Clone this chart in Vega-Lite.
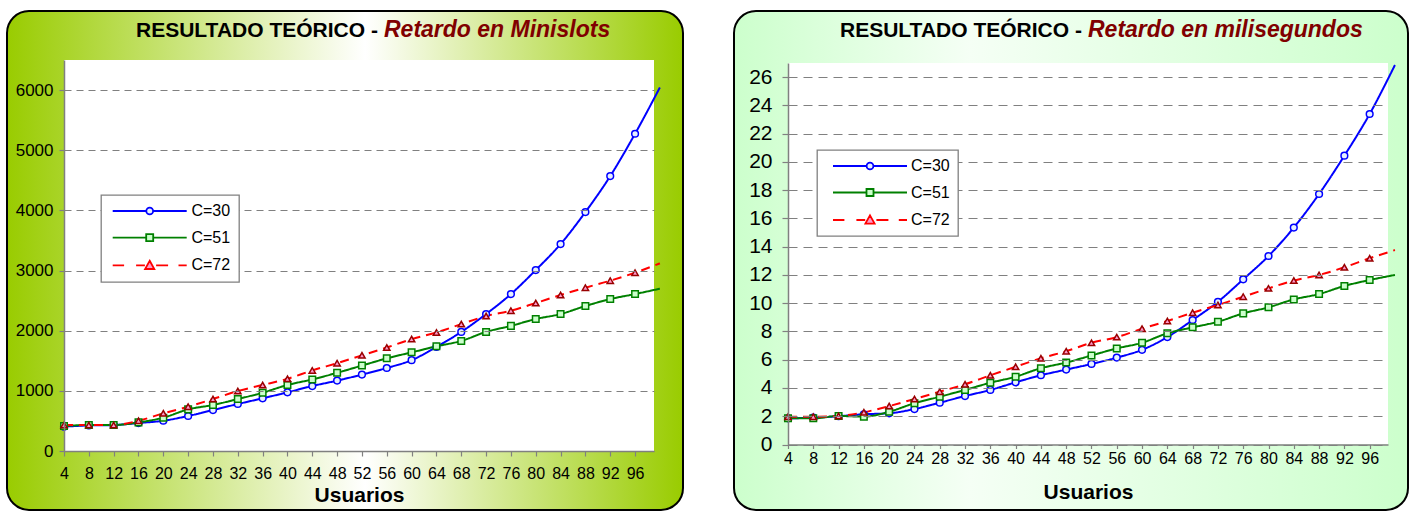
{
  "$schema": "https://vega.github.io/schema/vega-lite/v6.json",
  "background": "#FFFFFF",
  "padding": {"left": 6, "top": 10, "right": 0, "bottom": 0},
  "spacing": 49,
  "config": {"view": {"stroke": null}, "font": "Liberation Sans", "legend": {"strokeWidth": 1.3}},
  "datasets": {
    "panel": [{"k": 1}],
    "ms": [
      {"u":4,"C":"C=30","v":405},{"u":8,"C":"C=30","v":425},{"u":12,"C":"C=30","v":432},{"u":16,"C":"C=30","v":465},{"u":20,"C":"C=30","v":503},{"u":24,"C":"C=30","v":582},{"u":28,"C":"C=30","v":681},{"u":32,"C":"C=30","v":781},{"u":36,"C":"C=30","v":876},{"u":40,"C":"C=30","v":975},{"u":44,"C":"C=30","v":1080},{"u":48,"C":"C=30","v":1170},{"u":52,"C":"C=30","v":1270},{"u":56,"C":"C=30","v":1380},{"u":60,"C":"C=30","v":1510},{"u":64,"C":"C=30","v":1730},{"u":68,"C":"C=30","v":1980},{"u":72,"C":"C=30","v":2277},{"u":76,"C":"C=30","v":2609},{"u":80,"C":"C=30","v":3008},{"u":84,"C":"C=30","v":3440},{"u":88,"C":"C=30","v":3972},{"u":92,"C":"C=30","v":4570},{"u":96,"C":"C=30","v":5274},{"u":100,"C":"C=30","v":6044},
      {"u":4,"C":"C=51","v":415},{"u":8,"C":"C=51","v":432},{"u":12,"C":"C=51","v":432},{"u":16,"C":"C=51","v":476},{"u":20,"C":"C=51","v":554},{"u":24,"C":"C=51","v":692},{"u":28,"C":"C=51","v":765},{"u":32,"C":"C=51","v":864},{"u":36,"C":"C=51","v":969},{"u":40,"C":"C=51","v":1097},{"u":44,"C":"C=51","v":1190},{"u":48,"C":"C=51","v":1300},{"u":52,"C":"C=51","v":1420},{"u":56,"C":"C=51","v":1540},{"u":60,"C":"C=51","v":1640},{"u":64,"C":"C=51","v":1740},{"u":68,"C":"C=51","v":1830},{"u":72,"C":"C=51","v":1980},{"u":76,"C":"C=51","v":2080},{"u":80,"C":"C=51","v":2194},{"u":84,"C":"C=51","v":2277},{"u":88,"C":"C=51","v":2410},{"u":92,"C":"C=51","v":2526},{"u":96,"C":"C=51","v":2609},{"u":100,"C":"C=51","v":2698},
      {"u":4,"C":"C=72","v":432},{"u":8,"C":"C=72","v":432},{"u":12,"C":"C=72","v":432},{"u":16,"C":"C=72","v":503},{"u":20,"C":"C=72","v":626},{"u":24,"C":"C=72","v":737},{"u":28,"C":"C=72","v":864},{"u":32,"C":"C=72","v":997},{"u":36,"C":"C=72","v":1097},{"u":40,"C":"C=72","v":1200},{"u":44,"C":"C=72","v":1340},{"u":48,"C":"C=72","v":1460},{"u":52,"C":"C=72","v":1590},{"u":56,"C":"C=72","v":1720},{"u":60,"C":"C=72","v":1860},{"u":64,"C":"C=72","v":1970},{"u":68,"C":"C=72","v":2110},{"u":72,"C":"C=72","v":2244},{"u":76,"C":"C=72","v":2332},{"u":80,"C":"C=72","v":2460},{"u":84,"C":"C=72","v":2593},{"u":88,"C":"C=72","v":2715},{"u":92,"C":"C=72","v":2831},{"u":96,"C":"C=72","v":2964},{"u":100,"C":"C=72","v":3119}
    ],
    "t": [
      {"u":4,"C":"C=30","v":1.85},{"u":8,"C":"C=30","v":1.9},{"u":12,"C":"C=30","v":2.0},{"u":16,"C":"C=30","v":2.14},{"u":20,"C":"C=30","v":2.21},{"u":24,"C":"C=30","v":2.51},{"u":28,"C":"C=30","v":2.96},{"u":32,"C":"C=30","v":3.43},{"u":36,"C":"C=30","v":3.86},{"u":40,"C":"C=30","v":4.4},{"u":44,"C":"C=30","v":4.9},{"u":48,"C":"C=30","v":5.3},{"u":52,"C":"C=30","v":5.7},{"u":56,"C":"C=30","v":6.15},{"u":60,"C":"C=30","v":6.7},{"u":64,"C":"C=30","v":7.6},{"u":68,"C":"C=30","v":8.81},{"u":72,"C":"C=30","v":10.1},{"u":76,"C":"C=30","v":11.69},{"u":80,"C":"C=30","v":13.34},{"u":84,"C":"C=30","v":15.35},{"u":88,"C":"C=30","v":17.73},{"u":92,"C":"C=30","v":20.44},{"u":96,"C":"C=30","v":23.39},{"u":100,"C":"C=30","v":26.86},
      {"u":4,"C":"C=51","v":1.85},{"u":8,"C":"C=51","v":1.85},{"u":12,"C":"C=51","v":2.02},{"u":16,"C":"C=51","v":1.97},{"u":20,"C":"C=51","v":2.32},{"u":24,"C":"C=51","v":2.92},{"u":28,"C":"C=51","v":3.38},{"u":32,"C":"C=51","v":3.86},{"u":36,"C":"C=51","v":4.37},{"u":40,"C":"C=51","v":4.8},{"u":44,"C":"C=51","v":5.4},{"u":48,"C":"C=51","v":5.8},{"u":52,"C":"C=51","v":6.3},{"u":56,"C":"C=51","v":6.8},{"u":60,"C":"C=51","v":7.2},{"u":64,"C":"C=51","v":7.87},{"u":68,"C":"C=51","v":8.29},{"u":72,"C":"C=51","v":8.69},{"u":76,"C":"C=51","v":9.28},{"u":80,"C":"C=51","v":9.71},{"u":84,"C":"C=51","v":10.27},{"u":88,"C":"C=51","v":10.65},{"u":92,"C":"C=51","v":11.22},{"u":96,"C":"C=51","v":11.64},{"u":100,"C":"C=51","v":12.0},
      {"u":4,"C":"C=72","v":1.97},{"u":8,"C":"C=72","v":1.97},{"u":12,"C":"C=72","v":2.02},{"u":16,"C":"C=72","v":2.28},{"u":20,"C":"C=72","v":2.72},{"u":24,"C":"C=72","v":3.22},{"u":28,"C":"C=72","v":3.74},{"u":32,"C":"C=72","v":4.26},{"u":36,"C":"C=72","v":4.9},{"u":40,"C":"C=72","v":5.5},{"u":44,"C":"C=72","v":6.1},{"u":48,"C":"C=72","v":6.6},{"u":52,"C":"C=72","v":7.2},{"u":56,"C":"C=72","v":7.6},{"u":60,"C":"C=72","v":8.2},{"u":64,"C":"C=72","v":8.74},{"u":68,"C":"C=72","v":9.33},{"u":72,"C":"C=72","v":9.87},{"u":76,"C":"C=72","v":10.46},{"u":80,"C":"C=72","v":11.05},{"u":84,"C":"C=72","v":11.6},{"u":88,"C":"C=72","v":12.0},{"u":92,"C":"C=72","v":12.54},{"u":96,"C":"C=72","v":13.18},{"u":100,"C":"C=72","v":13.76}
    ]
  },
  "hconcat": [
    {
      "width": 676,
      "height": 499,
      "view": {
        "fill": {"gradient": "linear", "x1": 0, "y1": 0, "x2": 1, "y2": 0, "stops": [{"offset": 0, "color": "#99CC00"}, {"offset": 0.53, "color": "#FFFFFF"}, {"offset": 1, "color": "#99CC00"}]},
        "stroke": "#000000", "strokeWidth": 2, "cornerRadius": 22
      },
      "title": {
        "text": "RESULTADO TEÓRICO - ",
        "subtitle": "Retardo en Minislots",
        "anchor": "start", "frame": "group", "offset": 0, "dx": 129, "dy": 32.4,
        "font": "Liberation Sans", "fontSize": 21, "fontWeight": "bold", "color": "#000000",
        "subtitleFont": "Liberation Sans", "subtitleFontSize": 23, "subtitleFontStyle": "italic", "subtitleFontWeight": "bold", "subtitleColor": "#800000", "subtitlePadding": 0,
        "encode": {"subtitle": {"update": {"dx": {"value": 377}, "dy": {"value": 9.8}}}}
      },
      "layer": [
        {"data": {"name": "panel"}, "mark": {"type": "rect", "color": "#FFFFFF", "opacity": 1},
          "encoding": {
            "x": {"datum": 4, "type": "quantitative", "title": "Usuarios",
              "scale": {"domain": [4, 99.05], "range": [57, 647], "nice": false, "zero": false},
              "axis": {"orient": "bottom", "offset": -59, "values": [4,8,12,16,20,24,28,32,36,40,44,48,52,56,60,64,68,72,76,80,84,88,92,96], "grid": false, "format": "d",
                "domainColor": "#808080", "domainWidth": 1.5, "tickColor": "#808080", "tickWidth": 1.2, "tickSize": 5,
                "labelFont": "Liberation Sans", "labelFontSize": 16, "labelColor": "#000000", "labelPadding": 9.5, "labelFlush": false, "labelOverlap": false,
                "titleFont": "Liberation Sans", "titleFontSize": 21, "titleFontWeight": "bold", "titleColor": "#000000", "titlePadding": 3, "zindex": 1}},
            "x2": {"datum": 99.05},
            "y": {"datum": 0, "type": "quantitative", "title": null,
              "scale": {"domain": [0, 6500], "range": [440, 49], "nice": false},
              "axis": {"orient": "left", "offset": -57, "values": [0,1000,2000,3000,4000,5000,6000], "grid": true, "format": "d",
                "gridColor": "#808080", "gridDash": [7, 5], "gridWidth": 1.2,
                "domainColor": "#808080", "domainWidth": 1.5, "tickColor": "#808080", "tickWidth": 1.2, "tickSize": 5,
                "labelFont": "Liberation Sans", "labelFontSize": 17, "labelColor": "#000000", "labelPadding": 6, "labelOverlap": false, "zindex": 1}},
            "y2": {"datum": 6500}}},
        {"data": {"name": "ms"}, "mark": {"type": "line", "interpolate": "monotone", "strokeWidth": 2},
          "encoding": {
            "x": {"field": "u", "type": "quantitative", "title": "Usuarios",
              "scale": {"domain": [4, 99.05], "range": [57, 647], "nice": false, "zero": false},
              "axis": {"orient": "bottom", "offset": -59, "values": [4,8,12,16,20,24,28,32,36,40,44,48,52,56,60,64,68,72,76,80,84,88,92,96], "grid": false, "format": "d",
                "domainColor": "#808080", "domainWidth": 1.5, "tickColor": "#808080", "tickWidth": 1.2, "tickSize": 5,
                "labelFont": "Liberation Sans", "labelFontSize": 16, "labelColor": "#000000", "labelPadding": 9.5, "labelFlush": false, "labelOverlap": false,
                "titleFont": "Liberation Sans", "titleFontSize": 21, "titleFontWeight": "bold", "titleColor": "#000000", "titlePadding": 3, "zindex": 1}},
            "y": {"field": "v", "type": "quantitative", "title": null,
              "scale": {"domain": [0, 6500], "range": [440, 49], "nice": false},
              "axis": {"orient": "left", "offset": -57, "values": [0,1000,2000,3000,4000,5000,6000], "grid": true, "format": "d",
                "gridColor": "#808080", "gridDash": [7, 5], "gridWidth": 1.2,
                "domainColor": "#808080", "domainWidth": 1.5, "tickColor": "#808080", "tickWidth": 1.2, "tickSize": 5,
                "labelFont": "Liberation Sans", "labelFontSize": 17, "labelColor": "#000000", "labelPadding": 6, "labelOverlap": false, "zindex": 1}},
            "stroke": {"field": "C", "type": "nominal", "scale": {"domain": ["C=30","C=51","C=72"], "range": ["#0000FF","#008000","#FF0000"]},
              "legend": {"title": null, "orient": "none", "legendX": 94, "legendY": 184, "fillColor": "#FFFFFF", "strokeColor": "#808080", "padding": 8, "cornerRadius": 0,
                "labelFont": "Liberation Sans", "labelFontSize": 16, "labelColor": "#000000", "labelOffset": 33.7, "symbolSize": 64, "symbolStrokeWidth": 1.8, "symbolOffset": 32.7, "rowPadding": 10.7, "zindex": 2,
                "encode": {"symbols": {"update": {
                  "shape": {"signal": "datum.value === 'C=30' ? 'M-9.25,0L-0.85,0M0.85,0L9.25,0M0.85,0A0.85,0.85,0,1,1,-0.85,0A0.85,0.85,0,1,1,0.85,0Z' : datum.value === 'C=51' ? 'M-9.25,0L-0.875,0M0.875,0L9.25,0M-0.875,-0.875L0.875,-0.875L0.875,0.875L-0.875,0.875Z' : 'M-9.25,0L-6.4,0M-3.4,0L-1.2,0M1.6,0L4.6,0M7.2,0L9.25,0M0,-1.15L1.15,0.9L-1.15,0.9Z'"},
                  "fill": {"signal": "datum.value === 'C=30' ? '#E6F0FF' : datum.value === 'C=51' ? '#CCFFCC' : '#FF99CC'"},
                  "stroke": {"signal": "datum.value === 'C=30' ? '#0000FF' : datum.value === 'C=51' ? '#008000' : '#FF0000'"},
                  "strokeWidth": {"value": 1.8},
                  "opacity": {"value": 1}
                }}}}},
            "strokeDash": {"field": "C", "type": "nominal", "scale": {"domain": ["C=30","C=51","C=72"], "range": [[1,0],[1,0],[9,6]]}, "legend": null}
          }},
        {"data": {"name": "ms"}, "transform": [{"filter": "datum.u <= 96"}],
          "mark": {"type": "point", "filled": true, "opacity": 1, "strokeWidth": 1.5},
          "encoding": {
            "x": {"field": "u", "type": "quantitative", "title": "Usuarios",
              "scale": {"domain": [4, 99.05], "range": [57, 647], "nice": false, "zero": false},
              "axis": {"orient": "bottom", "offset": -59, "values": [4,8,12,16,20,24,28,32,36,40,44,48,52,56,60,64,68,72,76,80,84,88,92,96], "grid": false, "format": "d",
                "domainColor": "#808080", "domainWidth": 1.5, "tickColor": "#808080", "tickWidth": 1.2, "tickSize": 5,
                "labelFont": "Liberation Sans", "labelFontSize": 16, "labelColor": "#000000", "labelPadding": 9.5, "labelFlush": false, "labelOverlap": false,
                "titleFont": "Liberation Sans", "titleFontSize": 21, "titleFontWeight": "bold", "titleColor": "#000000", "titlePadding": 3, "zindex": 1}},
            "y": {"field": "v", "type": "quantitative", "title": null,
              "scale": {"domain": [0, 6500], "range": [440, 49], "nice": false},
              "axis": {"orient": "left", "offset": -57, "values": [0,1000,2000,3000,4000,5000,6000], "grid": true, "format": "d",
                "gridColor": "#808080", "gridDash": [7, 5], "gridWidth": 1.2,
                "domainColor": "#808080", "domainWidth": 1.5, "tickColor": "#808080", "tickWidth": 1.2, "tickSize": 5,
                "labelFont": "Liberation Sans", "labelFontSize": 17, "labelColor": "#000000", "labelPadding": 6, "labelOverlap": false, "zindex": 1}},
            "shape": {"field": "C", "type": "nominal", "scale": {"domain": ["C=30","C=51","C=72"], "range": ["circle","square","triangle-up"]}, "legend": null},
            "fill": {"field": "C", "type": "nominal", "scale": {"domain": ["C=30","C=51","C=72"], "range": ["#E6F0FF","#CCFFCC","#FF99CC"]}, "legend": null},
            "stroke": {"field": "C", "type": "nominal", "scale": {"domain": ["C=30","C=51","C=72"], "range": ["#0000FF","#008000","#990000"]}, "legend": null},
            "size": {"field": "C", "type": "ordinal", "scale": {"domain": ["C=30","C=51","C=72"], "range": [45, 40, 75]}, "legend": null}
          }}
      ],
      "resolve": {"scale": {"stroke": "independent"}}
    },
    {
      "width": 674,
      "height": 499,
      "view": {
        "fill": {"gradient": "linear", "x1": 0, "y1": 0, "x2": 1, "y2": 0, "stops": [{"offset": 0, "color": "#CCFFCC"}, {"offset": 0.35, "color": "#F5FFF5"}, {"offset": 1, "color": "#CCFFCC"}]},
        "stroke": "#000000", "strokeWidth": 2, "cornerRadius": 22
      },
      "title": {
        "text": "RESULTADO TEÓRICO - ",
        "subtitle": "Retardo en milisegundos",
        "anchor": "start", "frame": "group", "offset": 0, "dx": 106, "dy": 32.4,
        "font": "Liberation Sans", "fontSize": 21, "fontWeight": "bold", "color": "#000000",
        "subtitleFont": "Liberation Sans", "subtitleFontSize": 23, "subtitleFontStyle": "italic", "subtitleFontWeight": "bold", "subtitleColor": "#800000", "subtitlePadding": 0,
        "encode": {"subtitle": {"update": {"dx": {"value": 354}, "dy": {"value": 9.8}}}}
      },
      "layer": [
        {"data": {"name": "panel"}, "mark": {"type": "rect", "color": "#FFFFFF", "opacity": 1},
          "encoding": {
            "x": {"datum": 4, "type": "quantitative", "title": "Usuarios",
              "scale": {"domain": [4, 98.9], "range": [54, 654], "nice": false, "zero": false},
              "axis": {"orient": "bottom", "offset": -65.5, "values": [4,8,12,16,20,24,28,32,36,40,44,48,52,56,60,64,68,72,76,80,84,88,92,96], "grid": false, "format": "d",
                "domainColor": "#808080", "domainWidth": 1.5, "tickColor": "#808080", "tickWidth": 1.2, "tickSize": 4,
                "labelFont": "Liberation Sans", "labelFontSize": 16, "labelColor": "#000000", "labelPadding": 2, "labelFlush": false, "labelOverlap": false,
                "titleFont": "Liberation Sans", "titleFontSize": 21, "titleFontWeight": "bold", "titleColor": "#000000", "titlePadding": 15, "zindex": 1}},
            "x2": {"datum": 98.9},
            "y": {"datum": 0, "type": "quantitative", "title": null,
              "scale": {"domain": [0, 27], "range": [433.5, 52], "nice": false},
              "axis": {"orient": "left", "offset": -54, "values": [0,2,4,6,8,10,12,14,16,18,20,22,24,26], "grid": true, "format": "d",
                "gridColor": "#808080", "gridDash": [9, 6], "gridWidth": 1.2,
                "domainColor": "#808080", "domainWidth": 1.5, "tickColor": "#808080", "tickWidth": 1.2, "tickSize": 6,
                "labelFont": "Liberation Sans", "labelFontSize": 21, "labelColor": "#000000", "labelPadding": 10, "labelOverlap": false, "zindex": 1}},
            "y2": {"datum": 27}}},
        {"data": {"name": "t"}, "mark": {"type": "line", "interpolate": "monotone", "strokeWidth": 2},
          "encoding": {
            "x": {"field": "u", "type": "quantitative", "title": "Usuarios",
              "scale": {"domain": [4, 98.9], "range": [54, 654], "nice": false, "zero": false},
              "axis": {"orient": "bottom", "offset": -65.5, "values": [4,8,12,16,20,24,28,32,36,40,44,48,52,56,60,64,68,72,76,80,84,88,92,96], "grid": false, "format": "d",
                "domainColor": "#808080", "domainWidth": 1.5, "tickColor": "#808080", "tickWidth": 1.2, "tickSize": 4,
                "labelFont": "Liberation Sans", "labelFontSize": 16, "labelColor": "#000000", "labelPadding": 2, "labelFlush": false, "labelOverlap": false,
                "titleFont": "Liberation Sans", "titleFontSize": 21, "titleFontWeight": "bold", "titleColor": "#000000", "titlePadding": 15, "zindex": 1}},
            "y": {"field": "v", "type": "quantitative", "title": null,
              "scale": {"domain": [0, 27], "range": [433.5, 52], "nice": false},
              "axis": {"orient": "left", "offset": -54, "values": [0,2,4,6,8,10,12,14,16,18,20,22,24,26], "grid": true, "format": "d",
                "gridColor": "#808080", "gridDash": [9, 6], "gridWidth": 1.2,
                "domainColor": "#808080", "domainWidth": 1.5, "tickColor": "#808080", "tickWidth": 1.2, "tickSize": 6,
                "labelFont": "Liberation Sans", "labelFontSize": 21, "labelColor": "#000000", "labelPadding": 10, "labelOverlap": false, "zindex": 1}},
            "stroke": {"field": "C", "type": "nominal", "scale": {"domain": ["C=30","C=51","C=72"], "range": ["#0000FF","#008000","#FF0000"]},
              "legend": {"title": null, "orient": "none", "legendX": 83, "legendY": 139, "fillColor": "#FFFFFF", "strokeColor": "#808080", "padding": 8, "cornerRadius": 0,
                "labelFont": "Liberation Sans", "labelFontSize": 16, "labelColor": "#000000", "labelOffset": 33, "symbolSize": 64, "symbolStrokeWidth": 1.8, "symbolOffset": 37, "rowPadding": 10.5, "zindex": 2,
                "encode": {"symbols": {"update": {
                  "shape": {"signal": "datum.value === 'C=30' ? 'M-9.25,0L-0.85,0M0.85,0L9.25,0M0.85,0A0.85,0.85,0,1,1,-0.85,0A0.85,0.85,0,1,1,0.85,0Z' : datum.value === 'C=51' ? 'M-9.25,0L-0.875,0M0.875,0L9.25,0M-0.875,-0.875L0.875,-0.875L0.875,0.875L-0.875,0.875Z' : 'M-9.25,0L-6.4,0M-3.4,0L-1.2,0M1.6,0L4.6,0M7.2,0L9.25,0M0,-1.15L1.15,0.9L-1.15,0.9Z'"},
                  "fill": {"signal": "datum.value === 'C=30' ? '#E6F0FF' : datum.value === 'C=51' ? '#CCFFCC' : '#FF99CC'"},
                  "stroke": {"signal": "datum.value === 'C=30' ? '#0000FF' : datum.value === 'C=51' ? '#008000' : '#FF0000'"},
                  "strokeWidth": {"value": 1.8},
                  "opacity": {"value": 1}
                }}}}},
            "strokeDash": {"field": "C", "type": "nominal", "scale": {"domain": ["C=30","C=51","C=72"], "range": [[1,0],[1,0],[9,6]]}, "legend": null}
          }},
        {"data": {"name": "t"}, "transform": [{"filter": "datum.u <= 96"}],
          "mark": {"type": "point", "filled": true, "opacity": 1, "strokeWidth": 1.5},
          "encoding": {
            "x": {"field": "u", "type": "quantitative", "title": "Usuarios",
              "scale": {"domain": [4, 98.9], "range": [54, 654], "nice": false, "zero": false},
              "axis": {"orient": "bottom", "offset": -65.5, "values": [4,8,12,16,20,24,28,32,36,40,44,48,52,56,60,64,68,72,76,80,84,88,92,96], "grid": false, "format": "d",
                "domainColor": "#808080", "domainWidth": 1.5, "tickColor": "#808080", "tickWidth": 1.2, "tickSize": 4,
                "labelFont": "Liberation Sans", "labelFontSize": 16, "labelColor": "#000000", "labelPadding": 2, "labelFlush": false, "labelOverlap": false,
                "titleFont": "Liberation Sans", "titleFontSize": 21, "titleFontWeight": "bold", "titleColor": "#000000", "titlePadding": 15, "zindex": 1}},
            "y": {"field": "v", "type": "quantitative", "title": null,
              "scale": {"domain": [0, 27], "range": [433.5, 52], "nice": false},
              "axis": {"orient": "left", "offset": -54, "values": [0,2,4,6,8,10,12,14,16,18,20,22,24,26], "grid": true, "format": "d",
                "gridColor": "#808080", "gridDash": [9, 6], "gridWidth": 1.2,
                "domainColor": "#808080", "domainWidth": 1.5, "tickColor": "#808080", "tickWidth": 1.2, "tickSize": 6,
                "labelFont": "Liberation Sans", "labelFontSize": 21, "labelColor": "#000000", "labelPadding": 10, "labelOverlap": false, "zindex": 1}},
            "shape": {"field": "C", "type": "nominal", "scale": {"domain": ["C=30","C=51","C=72"], "range": ["circle","square","triangle-up"]}, "legend": null},
            "fill": {"field": "C", "type": "nominal", "scale": {"domain": ["C=30","C=51","C=72"], "range": ["#E6F0FF","#CCFFCC","#FF99CC"]}, "legend": null},
            "stroke": {"field": "C", "type": "nominal", "scale": {"domain": ["C=30","C=51","C=72"], "range": ["#0000FF","#008000","#990000"]}, "legend": null},
            "size": {"field": "C", "type": "ordinal", "scale": {"domain": ["C=30","C=51","C=72"], "range": [45, 40, 75]}, "legend": null}
          }}
      ],
      "resolve": {"scale": {"stroke": "independent"}}
    }
  ]
}
